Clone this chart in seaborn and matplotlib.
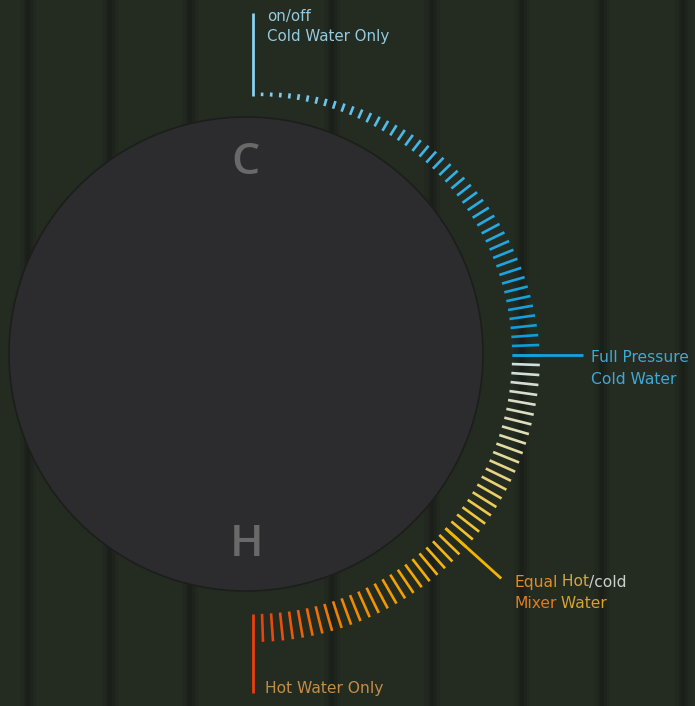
import numpy as np
import matplotlib
matplotlib.use("Agg")
import matplotlib.pyplot as plt
from matplotlib.patches import Circle
from matplotlib.collections import LineCollection
import seaborn as sns

# dial scale: one tick every 2 degrees, from just right of 12 o'clock round to 6 o'clock
dial_angles = np.arange(88, -89, -2)
cold_stops = ["#88cdee", "#33b2e6", "#0c9bd8"]
hot_stops = ["#cfdfde", "#e2dcaa", "#efc63e", "#f5a900", "#f08400", "#e8420f"]

# annotation spokes: angle (deg), outer radius, colour
note_angles = [90, 0, -42, -90]
note_radius = [342, 330, 334, 338]
note_colors = ["#8ccfee", "#13a2de", "#f2b600", "#e8400e"]

# label texts, as (piece, colour) runs per line
top_lines = [[("on/off", "#93cbe0")], [("Cold Water Only", "#93cbe0")]]
right_lines = [[("Full Pressure", "#3fa8d6")], [("Cold Water", "#3fa8d6")]]
mix_lines = [[("Equal", "#e08c24"), (" Hot", "#cfa93e"), ("/cold", "#c8d0ca")],
             [("Mixer", "#e07c1e"), (" Water", "#d4a232")]]
bottom_lines = [[("Hot Water Only", "#c48d44")]]

bg_col = "#242b21"
knob_col = "#2c2c2e"
seams = [28, 110, 190, 332, 432, 522, 602, 683]

sns.set_style("dark")
plt.rcParams["font.family"] = ["DejaVu Sans"]

fig = plt.figure(figsize=(6.95, 7.06), dpi=100)
fig.patch.set_facecolor(bg_col)
ax = fig.add_axes([0, 0, 1, 1])
ax.set_facecolor(bg_col)
ax.set_xlim(0, 695)
ax.set_ylim(706, 0)
ax.axis("off")

# panel seams in the background
for sx in seams:
    for w, a in [(16, 0.06), (9, 0.08), (4, 0.10)]:
        ax.axvspan(sx - w / 2, sx + w / 2, color="black", alpha=a, lw=0, zorder=0)

# knob
ax.add_patch(Circle((246, 354), 237, facecolor=knob_col, edgecolor="#1c1e1c", lw=1.2, zorder=1))
for letter, ly in [("C", 162), ("H", 544)]:
    ax.text(246, ly, letter, color="#69696a", fontsize=32, family=["Open Sans", "DejaVu Sans"],
            fontweight="semibold", ha="center", va="center", zorder=2)

# ticks
cx, cy, r_in = 253, 355, 259
upper = dial_angles[dial_angles >= 0]
lower = dial_angles[dial_angles < 0]
colors = list(sns.blend_palette(cold_stops, len(upper))) + list(sns.blend_palette(hot_stops, len(lower)))
segs = []
for ang in dial_angles:
    length = 3 + 25 * (1 - ang / 90) if ang > 0 else 28
    t = np.deg2rad(ang)
    segs.append([(cx + r_in * np.cos(t), cy - r_in * np.sin(t)),
                 (cx + (r_in + length) * np.cos(t), cy - (r_in + length) * np.sin(t))])
ax.add_collection(LineCollection(segs, colors=colors, linewidths=1.9, capstyle="butt", zorder=3))

# annotation spokes
for ang, ro, col in zip(note_angles, note_radius, note_colors):
    t = np.deg2rad(ang)
    ax.plot([cx + r_in * np.cos(t), cx + ro * np.cos(t)],
            [cy - r_in * np.sin(t), cy - ro * np.sin(t)], color=col, lw=2.0, solid_capstyle="butt", zorder=4)

renderer = fig.canvas.get_renderer()


def run_text(x, y, lines, size=11.2, step=21):
    for i, runs in enumerate(lines):
        xx = x
        for s, c in runs:
            t = ax.text(xx, y + i * step, s, color=c, fontsize=size,
                        ha="left", va="center", zorder=5)
            xx += t.get_window_extent(renderer).width


run_text(267, 16, top_lines, size=10.8, step=20)
run_text(591, 358, right_lines)
run_text(514, 582, mix_lines)
run_text(265, 688, bottom_lines)

fig.savefig("out.png", dpi=100, facecolor=bg_col)
